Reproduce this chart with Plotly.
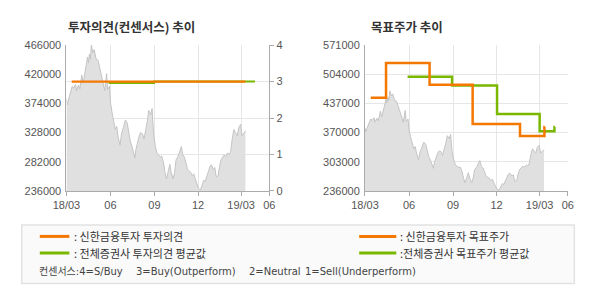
import plotly.graph_objects as go

W, H = 590, 300

# ---------------- data ----------------
price_dates = [
    "2018-03-01", "2018-03-03", "2018-03-07", "2018-03-09", "2018-03-13", "2018-03-16", "2018-03-20",
    "2018-03-22", "2018-03-26", "2018-03-29", "2018-04-02", "2018-04-05", "2018-04-10", "2018-04-14",
    "2018-04-16", "2018-04-18", "2018-04-20", "2018-04-22", "2018-04-25", "2018-04-28", "2018-05-02",
    "2018-05-06", "2018-05-10", "2018-05-13", "2018-05-17", "2018-05-20", "2018-05-24", "2018-05-26",
    "2018-05-30", "2018-06-01", "2018-06-04", "2018-06-07", "2018-06-11", "2018-06-14", "2018-06-17",
    "2018-06-21", "2018-06-24", "2018-06-28", "2018-07-02", "2018-07-06", "2018-07-09", "2018-07-12",
    "2018-07-16", "2018-07-19", "2018-07-22", "2018-07-24", "2018-07-28", "2018-07-31", "2018-08-03",
    "2018-08-07", "2018-08-10", "2018-08-14", "2018-08-17", "2018-08-20", "2018-08-24", "2018-08-27",
    "2018-08-30", "2018-09-03", "2018-09-06", "2018-09-09", "2018-09-13", "2018-09-16", "2018-09-20",
    "2018-09-23", "2018-09-26", "2018-09-30", "2018-10-03", "2018-10-06", "2018-10-10", "2018-10-13",
    "2018-10-16", "2018-10-20", "2018-10-23", "2018-10-27", "2018-10-30", "2018-11-02", "2018-11-06",
    "2018-11-09", "2018-11-12", "2018-11-16", "2018-11-19", "2018-11-22", "2018-11-26", "2018-11-29",
    "2018-12-02", "2018-12-06", "2018-12-09", "2018-12-13", "2018-12-16", "2018-12-19", "2018-12-23",
    "2018-12-26", "2018-12-29", "2019-01-02", "2019-01-05", "2019-01-08", "2019-01-12", "2019-01-15",
    "2019-01-18", "2019-01-22", "2019-01-25", "2019-01-28", "2019-02-01", "2019-02-04", "2019-02-07",
    "2019-02-11", "2019-02-14", "2019-02-17", "2019-02-21", "2019-02-24", "2019-02-28", "2019-03-03",
    "2019-03-06", "2019-03-10",
]
price_values = [
    381000, 372000, 385000, 391000, 401000, 398000, 404000,
    394000, 403000, 397000, 419000, 406000, 429000, 447000,
    438000, 452000, 444000, 466000, 454000, 459000, 444000,
    442000, 429000, 419000, 401000, 394000, 421000, 396000,
    401000, 376000, 361000, 346000, 333000, 338000, 321000,
    308000, 326000, 336000, 348000, 343000, 326000, 316000,
    306000, 298000, 288000, 301000, 316000, 323000, 328000,
    326000, 318000, 333000, 346000, 363000, 356000, 366000,
    326000, 306000, 296000, 293000, 290000, 291000, 280000,
    265000, 255000, 268000, 278000, 265000, 255000, 265000,
    285000, 290000, 298000, 306000, 293000, 290000, 280000,
    270000, 268000, 265000, 260000, 263000, 253000, 245000,
    240000, 237500, 245000, 253000, 251000, 260000, 268000,
    275000, 277000, 270000, 273000, 258000, 260000, 275000,
    285000, 290000, 293000, 290000, 296000, 293000, 298000,
    321000, 333000, 328000, 323000, 336000, 341000, 323000,
    326000, 331000,
]

# 투자의견 (consensus)
shinhan_opinion_dates = ["2018-03-12", "2019-03-10"]
shinhan_opinion_values = [3, 3]
avg_opinion_dates = ["2018-05-28", "2018-08-31", "2019-03-30"]
avg_opinion_values = [2.96, 3.0, 3.0]

# 목표주가
shinhan_target_dates = ["2018-03-13", "2018-04-14", "2018-07-14", "2018-10-12", "2019-01-19", "2019-03-11", "2019-03-12"]
shinhan_target_values = [450000, 530000, 480000, 390000, 362000, 383000, 383000]
avg_target_dates = ["2018-05-29", "2018-08-30", "2018-12-02", "2019-03-01", "2019-04-01", "2019-04-02"]
avg_target_values = [498000, 478000, 413000, 373000, 383000, 383000]

x_tickvals = ["2018-03-01", "2018-06-01", "2018-09-01", "2018-12-01", "2019-03-01", "2019-04-29"]
x_ticktext = ["18/03", "06", "09", "12", "19/03", "06"]
x_range = ["2018-03-01", "2019-04-29"]

left_y_range = [236000, 466000]
left_y_step = 46000
right_y_range = [236000, 571000]
right_y_step = 67000
opinion_range = [0, 4]

ORANGE = "#F47800"
GREEN = "#7AB800"
AREA_FILL = "#E0E0E0"
AREA_LINE = "#C4C4C4"
GRID = "#E6E6E6"
AXIS = "#ABABAB"
TICKC = "#555555"
KFONT = "Noto Sans CJK KR"
NFONT = "Arial, Liberation Sans, sans-serif"


def px(x):
    return x / W


def py(y):
    return 1 - y / H


fig = go.Figure()

# left chart: price area + opinions
fig.add_trace(go.Scatter(x=price_dates, y=price_values, mode="lines", fill="tozeroy",
                         fillcolor=AREA_FILL, line=dict(color=AREA_LINE, width=1),
                         xaxis="x", yaxis="y", showlegend=False))
fig.add_trace(go.Scatter(x=avg_opinion_dates, y=avg_opinion_values, mode="lines",
                         line=dict(color=GREEN, width=2, shape="hv"),
                         xaxis="x", yaxis="y2", showlegend=False))
fig.add_trace(go.Scatter(x=shinhan_opinion_dates, y=shinhan_opinion_values, mode="lines",
                         line=dict(color=ORANGE, width=2.2, shape="hv"),
                         xaxis="x", yaxis="y2", showlegend=False))

# right chart: price area + target prices
fig.add_trace(go.Scatter(x=price_dates, y=price_values, mode="lines", fill="tozeroy",
                         fillcolor=AREA_FILL, line=dict(color=AREA_LINE, width=1),
                         xaxis="x2", yaxis="y3", showlegend=False))
fig.add_trace(go.Scatter(x=avg_target_dates, y=avg_target_values, mode="lines",
                         line=dict(color=GREEN, width=2.5, shape="hv"),
                         xaxis="x2", yaxis="y3", showlegend=False))
fig.add_trace(go.Scatter(x=shinhan_target_dates, y=shinhan_target_values, mode="lines",
                         line=dict(color=ORANGE, width=2.5, shape="hv"),
                         xaxis="x2", yaxis="y3", showlegend=False))

ydom = [py(192.7), py(40.7)]
tickfont = dict(family=NFONT, size=11, color=TICKC)

xcommon = dict(type="date", range=x_range, tickmode="array", tickvals=x_tickvals,
               ticktext=x_ticktext, showgrid=True, gridcolor=GRID, gridwidth=1,
               showline=True, linecolor=AXIS, linewidth=1, ticks="outside", ticklen=4,
               tickcolor=AXIS, tickfont=tickfont, zeroline=False, fixedrange=True)

fig.update_layout(
    width=W, height=H, margin=dict(l=0, r=0, t=0, b=0),
    paper_bgcolor="white", plot_bgcolor="white",
    xaxis=dict(domain=[px(54.3), px(264.3)], anchor="y", **xcommon),
    xaxis2=dict(domain=[px(363.3), px(573.3)], anchor="y3", **xcommon),
    yaxis=dict(domain=ydom, anchor="x", range=left_y_range, tick0=left_y_range[0], dtick=left_y_step,
               tickformat="d", showgrid=False, showline=True, linecolor=AXIS, linewidth=1,
               ticks="", tickfont=tickfont, zeroline=False, ticklabelstandoff=2),
    yaxis2=dict(domain=ydom, anchor="x", overlaying="y", side="right", range=opinion_range, dtick=1,
                showgrid=True, gridcolor=GRID, showline=True, linecolor=AXIS, linewidth=1,
                ticks="outside", ticklen=4, tickcolor=AXIS, tickfont=tickfont, zeroline=False),
    yaxis3=dict(domain=ydom, anchor="x2", range=right_y_range, tick0=right_y_range[0], dtick=right_y_step,
                tickformat="d", showgrid=True, gridcolor=GRID, showline=True, linecolor=AXIS,
                linewidth=1, ticks="", tickfont=tickfont, zeroline=False, ticklabelstandoff=2),
)

# titles
fig.add_annotation(text="<b>투자의견(컨센서스) 추이</b>", xref="paper", yref="paper",
                   x=px(54), y=py(21), xanchor="left", yanchor="middle", showarrow=False,
                   font=dict(family=KFONT, size=12.5, color="#333333"))
fig.add_annotation(text="<b>목표주가 추이</b>", xref="paper", yref="paper",
                   x=px(367), y=py(21), xanchor="left", yanchor="middle", showarrow=False,
                   font=dict(family=KFONT, size=12.5, color="#333333"))

# legend box
fig.add_shape(type="rect", xref="paper", yref="paper", x0=px(8), x1=px(580), y0=py(289), y1=py(228),
              fillcolor="#FAFAFA", line=dict(color="#E2E2E2", width=1.5), layer="below")

legend_items = [
    (26.7, 57.3, 240, ORANGE, ": 신한금융투자 투자의견", 60),
    (26.7, 57.3, 257.3, GREEN, ": 전체증권사 투자의견 평균값", 60),
    (357.3, 395.7, 240, ORANGE, ": 신한금융투자 목표주가", 397),
    (357.3, 395.7, 257.3, GREEN, ":전체증권사 목표주가 평균값", 397),
]
lfont = dict(family=KFONT, size=11, color="#333333")
for x0, x1, yy, col, label, tx in legend_items:
    fig.add_shape(type="line", xref="paper", yref="paper", x0=px(x0), x1=px(x1), y0=py(yy), y1=py(yy),
                  line=dict(color=col, width=3))
    fig.add_annotation(text=label, xref="paper", yref="paper", x=px(tx), y=py(yy),
                       xanchor="left", yanchor="middle", showarrow=False, font=lfont)

consensus_texts = [("컨센서스:4=S/Buy", 24), ("3=Buy(Outperform)", 124), ("2=Neutral", 241), ("1=Sell(Underperform)", 299)]
cfont = dict(family="DejaVu Sans, " + KFONT, size=10, color="#444444")
for label, tx in consensus_texts:
    fig.add_annotation(text=label, xref="paper", yref="paper", x=px(tx), y=py(276.7),
                       xanchor="left", yanchor="middle", showarrow=False, font=cfont)

fig.write_html("out.html")
